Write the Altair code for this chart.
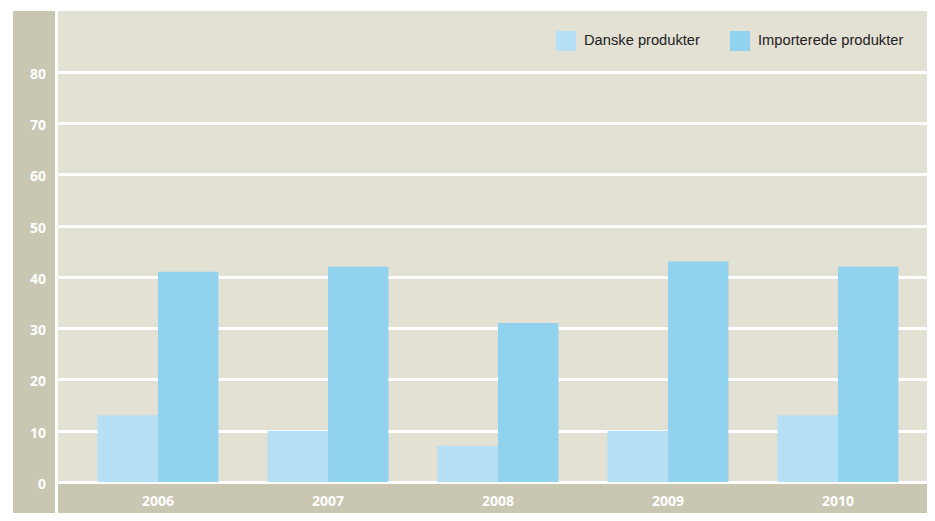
import altair as alt
import pandas as pd

years = ["2006", "2007", "2008", "2009", "2010"]
danske = [13, 10, 7, 10, 13]
importerede = [41, 42, 31, 43, 42]
series_names = ["Danske produkter", "Importerede produkter"]
series_colors = ["#b6e0f5", "#91d3ef"]
y_ticks = [0, 10, 20, 30, 40, 50, 60, 70, 80]

rows = []
for i, yr in enumerate(years):
    rows.append({"year": yr, "series": series_names[0], "value": danske[i]})
    rows.append({"year": yr, "series": series_names[1], "value": importerede[i]})
df = pd.DataFrame(rows)
ytick_df = pd.DataFrame({"tick": y_ticks, "label": [str(t) for t in y_ticks]})
year_df = pd.DataFrame({"year": years})

W = 869
H = 471
STRIP = "#c9c6b2"
PLOT_BG = "#e3e0d4"
LABEL_FONT = "Open Sans"

x_scale = alt.Scale(domain=years, paddingInner=0.288, paddingOuter=0.2, align=0.58)
y_scale = alt.Scale(domain=[0, 91.9], nice=False)

one = pd.DataFrame({"k": [0]})

left_strip = alt.Chart(one).mark_rect(color=STRIP).encode(
    x=alt.value(-45), x2=alt.value(-3), y=alt.value(0), y2=alt.value(H + 40)
)
bottom_strip = alt.Chart(one).mark_rect(color=STRIP).encode(
    x=alt.value(0), x2=alt.value(W), y=alt.value(H + 2), y2=alt.value(H + 40)
)

bars = alt.Chart(df).mark_bar(opacity=1).encode(
    x=alt.X("year:N", sort=years, scale=x_scale, axis=None),
    xOffset=alt.XOffset("series:N", sort=series_names, scale=alt.Scale(paddingInner=0, paddingOuter=0)),
    y=alt.Y(
        "value:Q",
        scale=y_scale,
        axis=alt.Axis(
            title=None, values=y_ticks, ticks=False, domain=False, labels=False,
            grid=True, gridColor="white", gridWidth=3, gridOpacity=1,
        ),
    ),
    color=alt.Color(
        "series:N",
        sort=series_names,
        scale=alt.Scale(domain=series_names, range=series_colors),
        title=None,
        legend=alt.Legend(
            orient="none", legendX=498, legendY=20, direction="horizontal",
            symbolType="square", symbolSize=400, symbolStrokeWidth=0, symbolOpacity=1,
            labelFont="Liberation Sans", labelFontSize=14.7, labelColor="#222222",
            labelOffset=8, columnPadding=30, padding=0,
        ),
    ),
)

y_labels = alt.Chart(ytick_df).mark_text(
    align="right", baseline="middle", color="white", font=LABEL_FONT,
    fontWeight="bold", fontSize=14, dy=3,
).encode(
    x=alt.value(-12),
    y=alt.Y("tick:Q", scale=y_scale),
    text="label:N",
)

x_labels = alt.Chart(year_df).mark_text(
    align="center", baseline="middle", color="white", font=LABEL_FONT,
    fontWeight="bold", fontSize=14,
).encode(
    x=alt.X("year:N", sort=years, scale=x_scale),
    y=alt.value(H + 20),
    text="year:N",
)

chart = alt.layer(left_strip, bottom_strip, bars, y_labels, x_labels).properties(
    width=W, height=H,
    padding={"left": 50, "top": 3, "right": 0, "bottom": 31},
    autosize=alt.AutoSizeParams(type="none"),
    background="white",
).configure_view(fill=PLOT_BG, stroke=None)

chart.save("out.html", embed_options={"renderer": "svg", "actions": False})
